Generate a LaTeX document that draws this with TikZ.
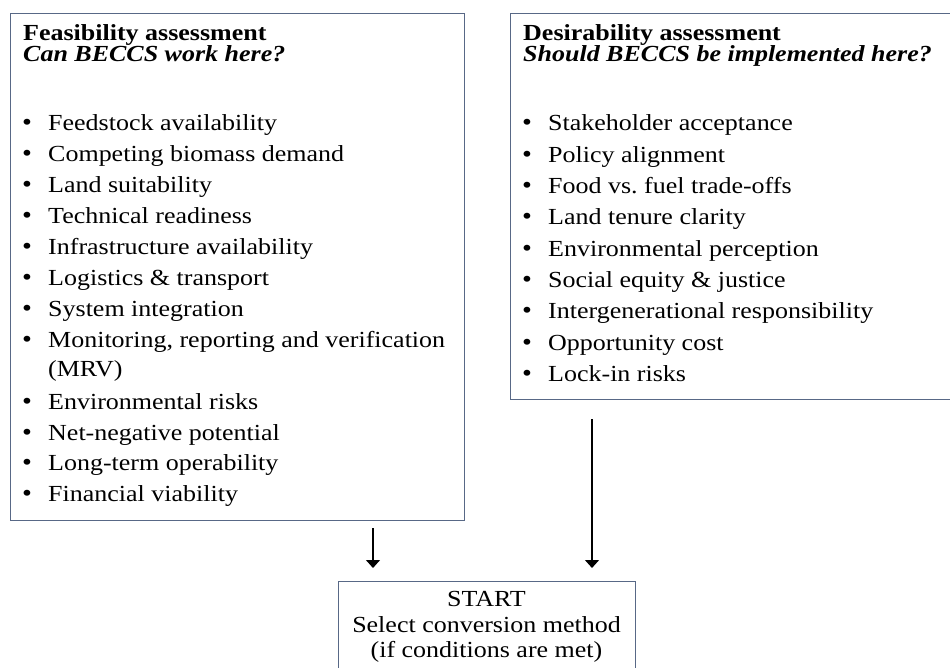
\documentclass[tikz,border=0pt]{standalone}
\usepackage{fontspec}
\setmainfont{Liberation Serif}[FakeStretch=1.13]
\usetikzlibrary{arrows.meta,calc}
\definecolor{boxline}{RGB}{88,104,134}
\begin{document}
\begin{tikzpicture}[x=1pt,y=-1pt,
  panel/.style={draw=boxline,line width=1.3pt,rectangle,inner sep=0pt,anchor=north west},
  txt/.style={anchor=base west,inner sep=0pt,font=\fontsize{23}{27}\selectfont},
  bul/.style={anchor=base west,inner sep=0pt,font=\fontsize{25}{27}\selectfont},
  ttl/.style={txt,font=\fontsize{23}{27}\selectfont\bfseries},
  ttli/.style={txt,font=\fontsize{23}{27}\selectfont\bfseries\itshape},
  ctr/.style={anchor=base,inner sep=0pt,font=\fontsize{23}{27}\selectfont},
  arr/.style={line width=1.3pt,-{Triangle[width=14pt,length=8pt]}}
]
\useasboundingbox (0,0) rectangle (950,668);
\clip (0,0) rectangle (950,668);
\fill[white] (0,0) rectangle (950,668);
% boxes
\node[panel,minimum width=454pt,minimum height=507pt] (feas) at (10,13) {};
\node[panel,minimum width=460pt,minimum height=386pt] (desir) at (510,13) {};
\node[panel,minimum width=297pt,minimum height=100pt] (start) at (338,581) {};
% titles
\node[ttl] (ft1) at (23,41) {Feasibility assessment};
\node[ttli] (ft2) at (23,62) {Can BECCS work here?};
\node[ttl] (dt1) at (523,41) {Desirability assessment};
\node[ttli] (dt2) at (523,62) {Should BECCS be implemented here?};
% left bullets
\foreach \i/\t in {0/Feedstock availability,1/Competing biomass demand,2/Land suitability,3/Technical readiness,4/Infrastructure availability,5/Logistics \& transport,6/System integration,7/{Monitoring, reporting and verification},9/Environmental risks,10/Net-negative potential,11/Long-term operability,12/Financial viability}{
  \node[bul] (fb\i) at (22,131+30.9*\i) {\textbullet};
  \node[txt] (fi\i) at (48,131+30.9*\i) {\t};
}
\node[txt] (fi8) at (48,129+30.9*8) {(MRV)};
% right bullets
\foreach \i/\t in {0/Stakeholder acceptance,1/Policy alignment,2/Food vs.\ fuel trade-offs,3/Land tenure clarity,4/Environmental perception,5/Social equity \& justice,6/Intergenerational responsibility,7/Opportunity cost,8/Lock-in risks}{
  \node[bul] (db\i) at (522,131+31.3*\i) {\textbullet};
  \node[txt] (di\i) at (548,131+31.3*\i) {\t};
}
% start text
\node[ctr] (s1) at (486.5,606) {START};
\node[ctr] (s2) at (486.5,632) {Select conversion method};
\node[ctr] (s3) at (486.5,657) {(if conditions are met)};
% arrows
\draw[arr] ($(feas.south west)+(363,7)$) -- ($(start.north west)+(35,-13)$);
\draw[arr] ($(desir.south west)+(82,19)$) -- ($(start.north west)+(254,-13)$);
\end{tikzpicture}
\end{document}
